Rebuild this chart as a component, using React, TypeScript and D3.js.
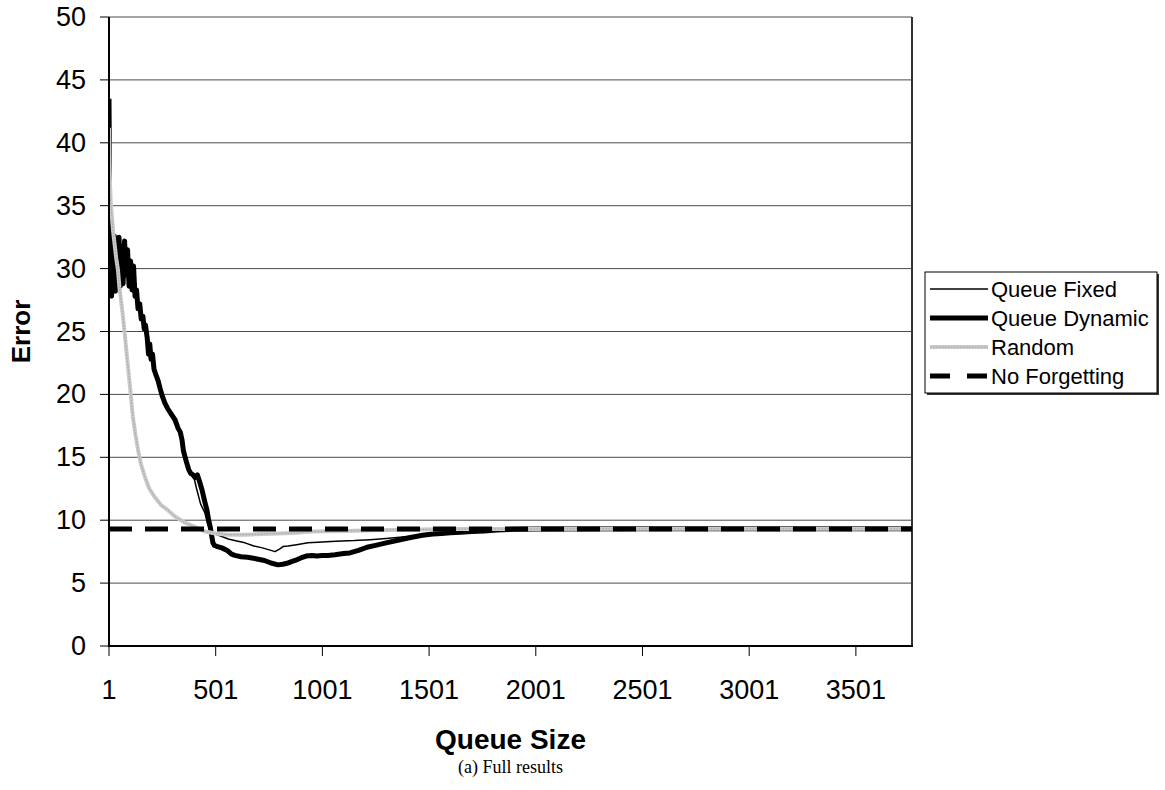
import React from 'react';
import * as d3 from 'd3';

// Error as a function of queue size, one [queueSize, error] pair per point
const queueFixed: [number, number][] = [
  [1, 43.5], [3, 38], [5, 30], [7, 28.2], [10, 31.5], [13, 27.8], [17, 32.8], [21, 28.5],
  [26, 32.6], [31, 28.2], [36, 32.3], [42, 29], [48, 32.5], [54, 28.6], [60, 31.8], [67, 28.8],
  [74, 32.2], [81, 29.5], [88, 31.5], [95, 28.6], [102, 30.6], [109, 28.3], [116, 30.2],
  [123, 27.8], [130, 28.3], [137, 26.8], [145, 27.2], [152, 26], [160, 26.2], [166, 25.2],
  [172, 25.5], [180, 24.5], [186, 23.2], [192, 24], [198, 22.8], [205, 23.2], [212, 22],
  [220, 21.6], [231, 21.1], [240, 20.5], [250, 19.9], [263, 19.3], [275, 18.9], [290, 18.5],
  [310, 18], [325, 17.3], [335, 17], [343, 16.4], [350, 15.5], [358, 15], [366, 14.5],
  [378, 14.0], [395, 13.7], [410, 12.6], [430, 11.3], [450, 10.6], [465, 9.6], [480, 9.1],
  [500, 8.9], [530, 8.7], [560, 8.5], [600, 8.35], [638, 8.2], [680, 7.95], [720, 7.8],
  [760, 7.6], [779, 7.5], [800, 7.7], [816, 7.9], [840, 7.95], [880, 8.05], [933, 8.2],
  [980, 8.25], [1040, 8.3], [1093, 8.35], [1150, 8.38], [1224, 8.45], [1300, 8.55],
  [1400, 8.7], [1505, 8.85], [1600, 9.0], [1700, 9.1], [1800, 9.2], [1900, 9.28],
  [2000, 9.3], [2500, 9.32], [3000, 9.32], [3764, 9.32],
];

const queueDynamic: [number, number][] = [
  [1, 43.5], [3, 38], [5, 30], [7, 28.2], [10, 31.5], [13, 27.8], [17, 32.8], [21, 28.5],
  [26, 32.6], [31, 28.2], [36, 32.3], [42, 29], [48, 32.5], [54, 28.6], [60, 31.8], [67, 28.8],
  [74, 32.2], [81, 29.5], [88, 31.5], [95, 28.6], [102, 30.6], [109, 28.3], [116, 30.2],
  [123, 27.8], [130, 28.3], [137, 26.8], [145, 27.2], [152, 26], [160, 26.2], [166, 25.2],
  [172, 25.5], [180, 24.5], [186, 23.2], [192, 24], [198, 22.8], [205, 23.2], [212, 22],
  [220, 21.6], [231, 21.1], [240, 20.5], [250, 19.9], [263, 19.3], [275, 18.9], [290, 18.5],
  [310, 18], [325, 17.3], [335, 17], [343, 16.4], [350, 15.5], [358, 15], [366, 14.5],
  [375, 14], [385, 13.7], [395, 13.6], [404, 13.4], [415, 13.6], [425, 13.1], [437, 12.4],
  [448, 11.6], [460, 10.8], [468, 10], [475, 9.5], [482, 8.8], [488, 8.2], [495, 8.0],
  [510, 7.9], [530, 7.8], [555, 7.6], [575, 7.3], [591, 7.2], [620, 7.1], [650, 7.05],
  [671, 7.0], [700, 6.9], [730, 6.8], [760, 6.6], [793, 6.45], [815, 6.5], [840, 6.6],
  [873, 6.8], [900, 7.0], [925, 7.15], [952, 7.2], [975, 7.15], [1000, 7.2], [1027, 7.2],
  [1060, 7.25], [1100, 7.35], [1130, 7.4], [1170, 7.6], [1210, 7.85], [1250, 8.0],
  [1300, 8.2], [1365, 8.45], [1420, 8.65], [1470, 8.8], [1519, 8.9], [1560, 8.95],
  [1600, 9.0], [1650, 9.05], [1700, 9.1], [1760, 9.15], [1819, 9.22], [1900, 9.28],
  [2000, 9.3], [2500, 9.32], [3000, 9.32], [3764, 9.32],
];

const randomForget: [number, number][] = [
  [1, 41.2], [4, 38], [8, 35.5], [20, 33], [35, 30.8], [43, 29.9], [50, 28.5], [65, 26.4],
  [76, 24.6], [90, 22.2], [100, 20.5], [113, 18.2], [125, 16.8], [137, 15.6], [150, 14.5],
  [170, 13.4], [190, 12.5], [217, 11.8], [245, 11.2], [277, 10.8], [310, 10.3], [357, 9.8],
  [400, 9.5], [451, 9.1], [500, 8.95], [559, 8.85], [640, 8.85], [718, 8.9], [800, 8.95],
  [880, 9.0], [952, 9.1], [1100, 9.15], [1247, 9.2], [1400, 9.25], [1600, 9.3],
  [1800, 9.3], [2500, 9.32], [3764, 9.32],
];

const noForgetting: [number, number][] = [[1, 9.3], [3764, 9.3]];

const yTicks = [0, 5, 10, 15, 20, 25, 30, 35, 40, 45, 50];
const xTicks = [1, 501, 1001, 1501, 2001, 2501, 3001, 3501];

const legendItems = ['Queue Fixed', 'Queue Dynamic', 'Random', 'No Forgetting'];

const SANS = '"Liberation Sans", Arial, sans-serif';
const SERIF = '"Liberation Serif", "Times New Roman", serif';

export default function App() {
  const left = 109;
  const right = 912;
  const top = 17;
  const bottom = 646;

  const x = d3.scaleLinear().domain([1, 3764]).range([left, right]);
  const y = d3.scaleLinear().domain([0, 50]).range([bottom, top]);
  const line = d3
    .line<[number, number]>()
    .x((d) => x(d[0]))
    .y((d) => y(d[1]));

  const legX = 925;
  const legY = 272;
  const legW = 232;
  const legH = 121;
  const rowY = (i: number) => legY + 17 + i * 29;

  return (
    <svg
      width={1165}
      height={790}
      style={{ position: 'absolute', left: 0, top: 0, background: '#fff' }}
    >
      <defs>
        <clipPath id="plotClip">
          <rect x={left} y={top - 5} width={right - left} height={bottom - top + 10} />
        </clipPath>
      </defs>

      {/* horizontal gridlines */}
      {yTicks.filter((t) => t > 0).map((t) => (
        <line key={t} x1={left} x2={right} y1={y(t)} y2={y(t)} stroke="#4a4a4a" strokeWidth={1} />
      ))}
      {/* right edge of plot area */}
      <line x1={right} x2={right} y1={top} y2={bottom} stroke="#333" strokeWidth={2} />

      <g clipPath="url(#plotClip)">
        <path d={line(queueFixed) ?? ''} fill="none" stroke="#000" strokeWidth={1.5} strokeLinejoin="round" />
        <path d={line(queueDynamic) ?? ''} fill="none" stroke="#000" strokeWidth={5} strokeLinejoin="round" />
        <path d={line(randomForget) ?? ''} fill="none" stroke="#cacaca" strokeWidth={4} strokeLinejoin="round" />
        <path d={line(randomForget) ?? ''} fill="none" stroke="#a2a2a2" strokeWidth={1} strokeDasharray="1.5 1.5" />
        <path d={line(noForgetting) ?? ''} fill="none" stroke="#000" strokeWidth={5} strokeDasharray="23 13" />
      </g>

      {/* axes */}
      <line x1={left} x2={left} y1={top} y2={bottom + 1} stroke="#000" strokeWidth={2} />
      <line x1={left - 1} x2={right + 1} y1={bottom} y2={bottom} stroke="#000" strokeWidth={2} />
      {yTicks.map((t) => (
        <g key={t}>
          <line x1={left - 9} x2={left} y1={y(t)} y2={y(t)} stroke="#000" strokeWidth={1} />
          <text
            x={86}
            y={y(t)}
            textAnchor="end"
            dominantBaseline="central"
            fontFamily={SANS}
            fontSize={27}
            fill="#000"
          >
            {t}
          </text>
        </g>
      ))}
      {xTicks.map((t) => (
        <g key={t}>
          <line x1={x(t)} x2={x(t)} y1={bottom} y2={bottom + 10} stroke="#000" strokeWidth={1} />
          <text
            x={x(t)}
            y={699}
            textAnchor="middle"
            fontFamily={SANS}
            fontSize={27}
            fill="#000"
          >
            {t}
          </text>
        </g>
      ))}

      {/* axis titles */}
      <text
        transform={`translate(30, ${(top + bottom) / 2}) rotate(-90)`}
        textAnchor="middle"
        fontFamily={SANS}
        fontWeight="bold"
        fontSize={26}
        fill="#000"
      >
        Error
      </text>
      <text
        x={(left + right) / 2}
        y={749}
        textAnchor="middle"
        fontFamily={SANS}
        fontWeight="bold"
        fontSize={28}
        fill="#000"
      >
        Queue Size
      </text>
      <text
        x={(left + right) / 2}
        y={773}
        textAnchor="middle"
        fontFamily={SERIF}
        fontSize={18}
        fill="#000"
      >
        (a) Full results
      </text>

      {/* legend */}
      <rect x={legX + 2} y={legY + 2} width={legW} height={legH} fill="#333" />
      <rect x={legX} y={legY} width={legW} height={legH} fill="#fff" stroke="#000" strokeWidth={1} />
      {legendItems.map((name, i) => {
        const ly = rowY(i);
        return (
          <g key={name}>
            {i === 0 && <line x1={930} x2={988} y1={ly} y2={ly} stroke="#000" strokeWidth={1.5} />}
            {i === 1 && <line x1={930} x2={988} y1={ly} y2={ly} stroke="#000" strokeWidth={5} />}
            {i === 2 && (
              <>
                <line x1={930} x2={988} y1={ly} y2={ly} stroke="#cacaca" strokeWidth={4} />
                <line x1={930} x2={988} y1={ly} y2={ly} stroke="#a2a2a2" strokeWidth={1} strokeDasharray="1.5 1.5" />
              </>
            )}
            {i === 3 && (
              <line x1={930} x2={988} y1={ly} y2={ly} stroke="#000" strokeWidth={5} strokeDasharray="20 17" />
            )}
            <text
              x={991}
              y={ly}
              dominantBaseline="central"
              fontFamily={SANS}
              fontSize={22}
              fill="#000"
            >
              {name}
            </text>
          </g>
        );
      })}
    </svg>
  );
}
